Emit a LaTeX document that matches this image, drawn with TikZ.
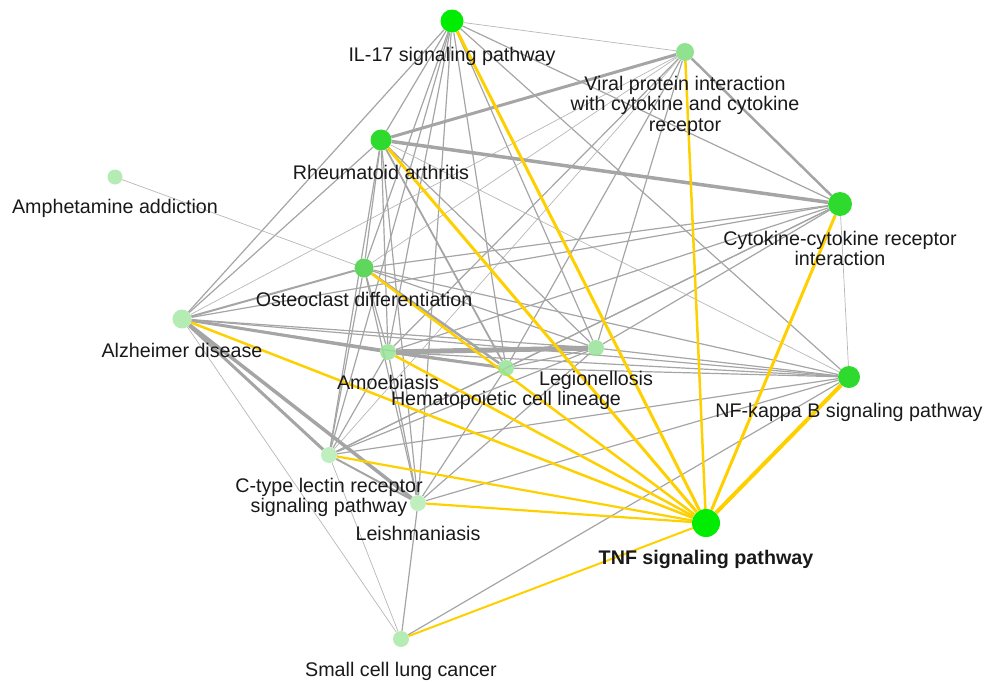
\documentclass[tikz,border=0pt]{standalone}
\usepackage{fontspec}
\setmainfont{Liberation Sans}
\usetikzlibrary{positioning,backgrounds}

\definecolor{linkgray}{RGB}{165,165,165}
\definecolor{tnfgold}{RGB}{255,208,0}
\definecolor{hubgreen}{RGB}{0,236,0}
\definecolor{midgreen}{RGB}{45,218,45}
\definecolor{odgreen}{RGB}{95,215,95}
\definecolor{palegreen}{RGB}{150,226,150}
\definecolor{faintgreen}{RGB}{180,236,180}

\begin{document}
\begin{tikzpicture}[x=1pt, y=-1pt,
  pathway/.style = {circle, inner sep=0pt, minimum size=#1},
  pwlabel/.style = {inner sep=0pt, align=center, text=black!90,
    font=\fontsize{19.7pt}{20.8pt}\selectfont},
  link/.style = {draw=linkgray, line width=1.2pt},
  thinlink/.style = {draw=linkgray!80, line width=0.7pt},
  heavylink/.style = {draw=linkgray, line width=#1},
  tnflink/.style = {draw=tnfgold, line width=#1}]

  \useasboundingbox (0,0) rectangle (986,681);

  \node[pathway=23pt, fill=hubgreen] (IL17) at (452,21) {};
  \node[pathway=18pt, fill=palegreen!90!odgreen] (Viral) at (685,52) {};
  \node[pathway=21pt, fill=midgreen] (Rheuma) at (381,140) {};
  \node[pathway=15pt, fill=faintgreen] (Amphet) at (115,177) {};
  \node[pathway=24pt, fill=midgreen] (Cytok) at (840,204) {};
  \node[pathway=19pt, fill=odgreen] (Osteo) at (364,268) {};
  \node[pathway=19pt, fill=faintgreen] (Alzh) at (182,319) {};
  \node[pathway=16pt, fill=palegreen, fill opacity=0.85] (Amoeb) at (388,352) {};
  \node[pathway=16pt, fill=palegreen, fill opacity=0.85] (Legio) at (596,348) {};
  \node[pathway=16pt, fill=palegreen, fill opacity=0.85] (Hemato) at (506,368) {};
  \node[pathway=22pt, fill=midgreen] (NFkB) at (849,377) {};
  \node[pathway=16pt, fill=faintgreen, fill opacity=0.85] (Ctype) at (329,455) {};
  \node[pathway=16pt, fill=faintgreen, fill opacity=0.85] (Leish) at (418,503) {};
  \node[pathway=28pt, fill=hubgreen] (TNF) at (706,523) {};
  \node[pathway=16pt, fill=faintgreen] (Small) at (401,639) {};

  \node[pwlabel, below=14.5pt of IL17] (IL17-text) {IL-17 signaling pathway};
  \node[pwlabel, below=14.5pt of Viral] (Viral-text) {Viral protein interaction\\with cytokine and cytokine\\receptor};
  \node[pwlabel, below=14.5pt of Rheuma] (Rheuma-text) {Rheumatoid arthritis};
  \node[pwlabel, below=14.5pt of Amphet] (Amphet-text) {Amphetamine addiction};
  \node[pwlabel, below=14.5pt of Cytok] (Cytok-text) {Cytokine-cytokine receptor\\interaction};
  \node[pwlabel, below=14.5pt of Osteo] (Osteo-text) {Osteoclast differentiation};
  \node[pwlabel, below=14.5pt of Alzh] (Alzh-text) {Alzheimer disease};
  \node[pwlabel, below=14.5pt of Amoeb] (Amoeb-text) {Amoebiasis};
  \node[pwlabel, below=14.5pt of Legio] (Legio-text) {Legionellosis};
  \node[pwlabel, below=14.5pt of Hemato] (Hemato-text) {Hematopoietic cell lineage};
  \node[pwlabel, below=14.5pt of NFkB] (NFkB-text) {NF-kappa B signaling pathway};
  \node[pwlabel, below=14.5pt of Ctype] (Ctype-text) {C-type lectin receptor\\signaling pathway};
  \node[pwlabel, below=14.5pt of Leish] (Leish-text) {Leishmaniasis};
  \node[pwlabel, below=12.5pt of TNF, font=\fontsize{19.7pt}{20.8pt}\selectfont\bfseries] (TNF-text) {TNF signaling pathway};
  \node[pwlabel, below=14.5pt of Small] (Small-text) {Small cell lung cancer};

  \begin{pgfonlayer}{background}
    \draw[thinlink] (IL17) -- (Viral);
    \draw[link] (IL17) -- (Rheuma);
    \draw[link] (IL17) -- (Alzh);
    \draw[link] (IL17) -- (Osteo);
    \draw[link] (IL17) -- (Amoeb);
    \draw[link] (IL17) -- (Ctype);
    \draw[link] (IL17) -- (Leish);
    \draw[link] (IL17) -- (Hemato);
    \draw[link] (IL17) -- (Legio);
    \draw[link] (IL17) -- (NFkB);
    \draw[link] (IL17) -- (Cytok);
    \draw[heavylink=3pt] (Viral) -- (Rheuma);
    \draw[heavylink=2.5pt] (Viral) -- (Cytok);
    \draw[thinlink] (Viral) -- (Osteo);
    \draw[thinlink] (Viral) -- (Alzh);
    \draw[link] (Viral) -- (Amoeb);
    \draw[link] (Viral) -- (Hemato);
    \draw[thinlink] (Viral) -- (Ctype);
    \draw[link] (Viral) -- (Legio);
    \draw[heavylink=3.5pt] (Rheuma) -- (Cytok);
    \draw[link] (Rheuma) -- (Alzh);
    \draw[link] (Rheuma) -- (Osteo);
    \draw[link] (Rheuma) -- (Amoeb);
    \draw[link] (Rheuma) -- (Ctype);
    \draw[link] (Rheuma) -- (Leish);
    \draw[heavylink=1.8pt] (Rheuma) -- (Hemato);
    \draw[link] (Rheuma) -- (Legio);
    \draw[thinlink] (Rheuma) -- (NFkB);
    \draw[thinlink] (Amphet) -- (Osteo);
    \draw[link] (Cytok) -- (Osteo);
    \draw[link] (Cytok) -- (Alzh);
    \draw[link] (Cytok) -- (Amoeb);
    \draw[link] (Cytok) -- (Hemato);
    \draw[link] (Cytok) -- (Legio);
    \draw[link] (Cytok) -- (Ctype);
    \draw[thinlink] (Cytok) -- (NFkB);
    \draw[heavylink=2pt] (Osteo) -- (Alzh);
    \draw[link] (Osteo) -- (Amoeb);
    \draw[heavylink=2.5pt] (Osteo) -- (Hemato);
    \draw[link] (Osteo) -- (Legio);
    \draw[link] (Osteo) -- (NFkB);
    \draw[link] (Osteo) -- (Ctype);
    \draw[link] (Osteo) -- (Leish);
    \draw[heavylink=3pt] (Alzh) -- (Amoeb);
    \draw[link] (Alzh) -- (Legio);
    \draw[link] (Alzh) -- (Hemato);
    \draw[link] (Alzh) -- (NFkB);
    \draw[heavylink=3pt] (Alzh) -- (Ctype);
    \draw[heavylink=3.5pt] (Alzh) -- (Leish);
    \draw[thinlink] (Alzh) -- (Small);
    \draw[heavylink=5pt] (Amoeb) -- (Legio);
    \draw[heavylink=3pt] (Amoeb) -- (Hemato);
    \draw[link] (Amoeb) -- (NFkB);
    \draw[link] (Amoeb) -- (Ctype);
    \draw[link] (Amoeb) -- (Leish);
    \draw[link] (Hemato) -- (Legio);
    \draw[link] (Hemato) -- (NFkB);
    \draw[link] (Hemato) -- (Ctype);
    \draw[link] (Hemato) -- (Leish);
    \draw[link] (Legio) -- (NFkB);
    \draw[link] (Legio) -- (Ctype);
    \draw[link] (Legio) -- (Leish);
    \draw[link] (NFkB) -- (Ctype);
    \draw[link] (NFkB) -- (Leish);
    \draw[link] (NFkB) -- (Small);
    \draw[heavylink=2pt] (Ctype) -- (Leish);
    \draw[thinlink] (Ctype) -- (Small);
    \draw[link] (Leish) -- (Small);

    \draw[tnflink=3pt] (TNF) -- (IL17);
    \draw[tnflink=2.5pt] (TNF) -- (Viral);
    \draw[tnflink=3pt] (TNF) -- (Rheuma);
    \draw[tnflink=3pt] (TNF) -- (Cytok);
    \draw[tnflink=4pt] (TNF) -- (NFkB);
    \draw[tnflink=2.5pt] (TNF) -- (Osteo);
    \draw[tnflink=2.5pt] (TNF) -- (Amoeb);
    \draw[tnflink=2.5pt] (TNF) -- (Alzh);
    \draw[tnflink=2.2pt] (TNF) -- (Ctype);
    \draw[tnflink=2.2pt] (TNF) -- (Leish);
    \draw[tnflink=2pt] (TNF) -- (Small);
  \end{pgfonlayer}
\end{tikzpicture}
\end{document}
